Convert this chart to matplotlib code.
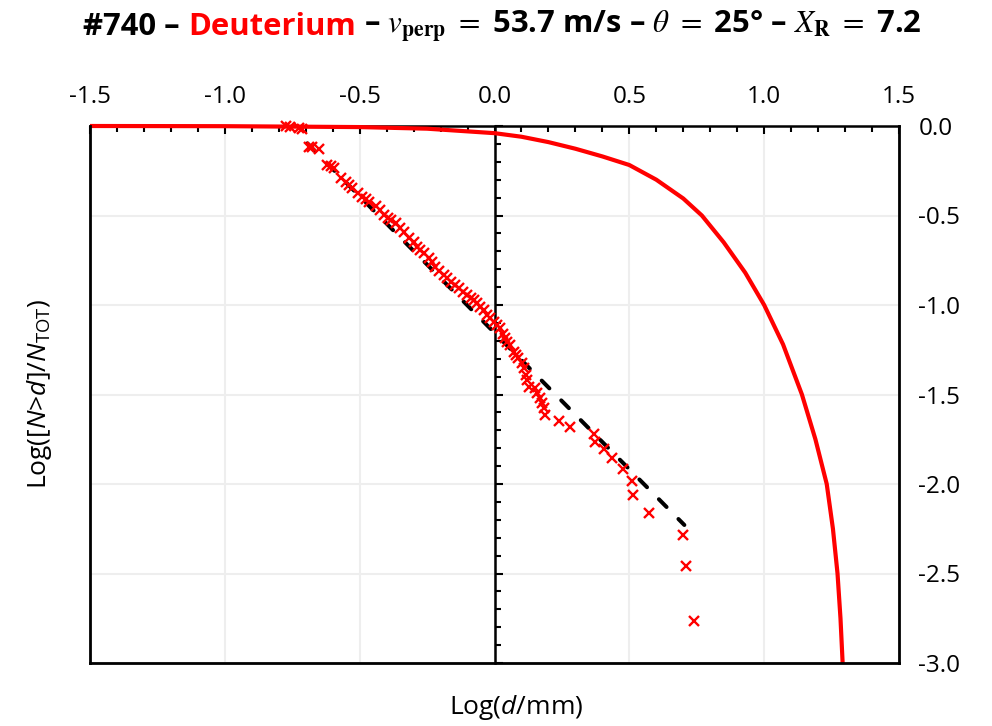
import numpy as np
import matplotlib
matplotlib.use('Agg')
import matplotlib.pyplot as plt
from matplotlib.ticker import MultipleLocator, FormatStrFormatter

plt.rcParams['font.family'] = ['Open Sans', 'DejaVu Sans']
plt.rcParams['axes.unicode_minus'] = False
plt.rcParams['mathtext.fontset'] = 'custom'
plt.rcParams['mathtext.rm'] = 'Open Sans'
plt.rcParams['mathtext.it'] = 'Open Sans:italic'
plt.rcParams['mathtext.bf'] = 'Open Sans:bold'

# measured crater sizes: log10(d/mm) vs log10(N>d / Ntot)
meas_x = [-0.774, -0.760, -0.725, -0.715, -0.688, -0.675, -0.651, -0.620, -0.608, -0.595,
          -0.570, -0.552, -0.540, -0.527, -0.505, -0.490, -0.478, -0.465, -0.441, -0.425,
          -0.410, -0.395, -0.385, -0.367, -0.350, -0.336, -0.317, -0.300, -0.286, -0.275,
          -0.262, -0.243, -0.230, -0.219, -0.205, -0.188, -0.175, -0.163, -0.148, -0.132,
          -0.118, -0.101, -0.088, -0.076, -0.064, -0.052, -0.040, -0.027, -0.015, -0.002,
          0.010, 0.022, 0.030, 0.040, 0.047, 0.059, 0.071, 0.080, 0.086, 0.103,
          0.109, 0.115, 0.119, 0.127, 0.152, 0.158, 0.168, 0.176, 0.183, 0.189,
          0.241, 0.281, 0.368, 0.374, 0.405, 0.436, 0.477, 0.511, 0.512, 0.572,
          0.699, 0.711, 0.738]
meas_y = [0.0, -0.003, -0.013, -0.018, -0.115, -0.120, -0.128, -0.218, -0.226, -0.236,
          -0.292, -0.311, -0.330, -0.348, -0.375, -0.394, -0.410, -0.422, -0.445, -0.470,
          -0.497, -0.515, -0.525, -0.544, -0.568, -0.590, -0.627, -0.650, -0.674, -0.690,
          -0.711, -0.739, -0.760, -0.786, -0.810, -0.832, -0.850, -0.870, -0.890, -0.907,
          -0.925, -0.944, -0.960, -0.972, -0.990, -1.009, -1.030, -1.056, -1.075, -1.093,
          -1.112, -1.130, -1.160, -1.185, -1.204, -1.223, -1.260, -1.280, -1.298, -1.326,
          -1.354, -1.390, -1.419, -1.457, -1.466, -1.494, -1.520, -1.550, -1.577, -1.615,
          -1.646, -1.683, -1.720, -1.763, -1.806, -1.857, -1.917, -1.985, -2.063, -2.160,
          -2.285, -2.458, -2.763]

# power-law fit (dashed)
fit_x = [-0.694, 0.704]
fit_y = [-0.097, -2.229]

# model curve (red)
model_x = [-1.5, -1.0, -0.5, -0.25, 0.0, 0.1, 0.2, 0.3, 0.4, 0.5, 0.6, 0.7, 0.769,
           0.85, 0.93, 1.0, 1.07, 1.14, 1.19, 1.232, 1.255, 1.272, 1.283, 1.291]
model_y = [0.0, -0.001, -0.006, -0.015, -0.040, -0.060, -0.090, -0.127, -0.170, -0.218,
           -0.300, -0.405, -0.500, -0.650, -0.820, -1.000, -1.220, -1.500, -1.750, -2.000,
           -2.250, -2.500, -2.750, -3.0]

W, H = 992, 726
fig = plt.figure(figsize=(W / 100, H / 100), dpi=100)
ax = fig.add_axes([90 / W, 1 - 663 / H, (899 - 90) / W, (663 - 126) / H])
ax.set_xlim(-1.5, 1.5)
ax.set_ylim(-3, 0)

ax.grid(True, which='major', color='#eeeeee', lw=1.5, zorder=0)
ax.set_axisbelow(True)

ax.plot(model_x, model_y, color='#ff0000', lw=3, zorder=4, clip_on=False, solid_capstyle='butt')
ax.plot(fit_x, fit_y, color='black', lw=2.9, ls=(0, (2.7, 4.2)), dash_capstyle='round', zorder=5)
ax.plot(meas_x, meas_y, 'x', color='#ff0000', ms=6.5, mew=1.7, zorder=6, clip_on=False)

# top axis (y = 0) with ticks pointing down
ax.xaxis.tick_top()
ax.xaxis.set_major_locator(MultipleLocator(0.5))
ax.xaxis.set_minor_locator(MultipleLocator(0.1))
ax.xaxis.set_major_formatter(FormatStrFormatter('%.1f'))
ax.tick_params(axis='x', which='both', direction='in', width=1.5, labelsize=17.5, pad=12)
ax.tick_params(axis='x', which='major', length=6)
ax.tick_params(axis='x', which='minor', length=4)

# vertical axis through x = 0, ticks to the right
ax.spines['left'].set_position(('data', 0))
ax.yaxis.set_major_locator(MultipleLocator(0.5))
ax.yaxis.set_minor_locator(MultipleLocator(0.1))
ax.tick_params(axis='y', which='both', direction='in', width=1.5, labelleft=False)
ax.tick_params(axis='y', which='major', length=6)
ax.tick_params(axis='y', which='minor', length=4)
for s in ['left', 'top']:
    ax.spines[s].set_linewidth(1.8)
    ax.spines[s].set_color('black')
ax.spines['bottom'].set_visible(False)
ax.spines['right'].set_visible(False)

# frame + right-hand labels
ax2 = ax.twinx()
ax2.set_ylim(-3, 0)
ax2.yaxis.set_major_locator(MultipleLocator(0.5))
ax2.yaxis.set_major_formatter(FormatStrFormatter('%.1f'))
ax2.tick_params(axis='y', length=0, labelsize=17.5, pad=14)
ax2.spines['top'].set_visible(False)
for s in ['left', 'right', 'bottom']:
    ax2.spines[s].set_linewidth(2)
    ax2.spines[s].set_color('black')

fig.text(516 / W, 1 - 708 / H, r'Log($d$/mm)', ha='center', va='center', fontsize=19)
fig.text(40 / W, 1 - 394 / H, r'Log([$N$>$d$]/$N_{\mathrm{TOT}}$)', ha='center', va='center',
         rotation=90, fontsize=19)

# title made of coloured pieces
pieces = [('#740 – ', 'black'), ('Deuterium', '#ff0000'),
          (r' – $v_{\mathbf{perp}}$ $=$ 53.7 m/s – $\theta$ $=$ 25° – $X_{\mathbf{R}}$ $=$ 7.2', 'black')]
r = fig.canvas.get_renderer()
texts = []
widths = []
for s, c in pieces:
    t = fig.text(0, 1 - 27 / H, s, color=c, fontsize=22.3, fontweight='bold', va='center', ha='left',
                 math_fontfamily='stix')
    texts.append(t)
    widths.append(t.get_window_extent(r).width)
x0 = 502 - sum(widths) / 2
for t, w in zip(texts, widths):
    t.set_x(x0 / W)
    x0 += w

fig.savefig('out.png', dpi=100)
